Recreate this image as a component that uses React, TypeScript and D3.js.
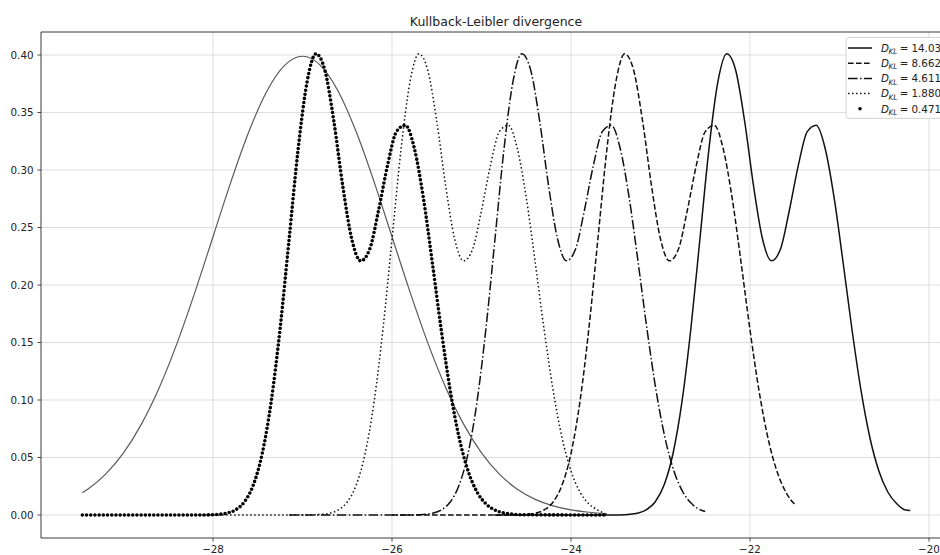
import React from "react";
import * as d3 from "d3";

const W = 940;
const H = 555;

// axis ticks
const xTicks = [-28, -26, -24, -22, -20];
const xTickLabels = ["\u221228", "\u221226", "\u221224", "\u221222", "\u221220"];
const yTicks = [0, 0.05, 0.1, 0.15, 0.2, 0.25, 0.3, 0.35, 0.4];
const yTickLabels = ["0.00", "0.05", "0.10", "0.15", "0.20", "0.25", "0.30", "0.35", "0.40"];

// reference (wide) curve q
const qX = [-29.46, -29.4, -29.2, -29.0, -28.8, -28.6, -28.4, -28.2, -28.0, -27.8, -27.6, -27.4, -27.2, -27.0, -26.8, -26.6, -26.4, -26.2, -26.0, -25.8, -25.6, -25.4, -25.2, -25.0, -24.8, -24.6, -24.4, -24.2, -24.0, -23.8, -23.6];
const qY = [0.0194, 0.0224, 0.0355, 0.054, 0.079, 0.1109, 0.1497, 0.1942, 0.242, 0.2897, 0.3332, 0.3683, 0.391, 0.3989, 0.391, 0.3683, 0.3332, 0.2897, 0.242, 0.1942, 0.1497, 0.1109, 0.079, 0.054, 0.0355, 0.0224, 0.0136, 0.0079, 0.0044, 0.0024, 0.0012];

// bimodal profile p (offset from its first peak)
const profileOffsets = [-1.3, -1.2, -1.1, -1.0, -0.9, -0.8, -0.7, -0.6, -0.5, -0.4, -0.3, -0.2, -0.1, 0, 0.1, 0.2, 0.3, 0.4, 0.5, 0.6, 0.7, 0.8, 0.9, 1.0, 1.1, 1.2, 1.3, 1.4, 1.5, 1.6, 1.7, 1.8, 1.9, 2.0, 2.1, 2.2, 2.3];
const profileValues = [0.0, 0.0001, 0.0005, 0.0015, 0.0044, 0.0113, 0.026, 0.0535, 0.0985, 0.1624, 0.2396, 0.3173, 0.3761, 0.401, 0.3867, 0.3425, 0.286, 0.24, 0.221, 0.231, 0.265, 0.304, 0.3334, 0.3389, 0.3187, 0.2759, 0.2198, 0.1611, 0.1085, 0.0672, 0.0383, 0.02, 0.0097, 0.0043, 0.0017, 0.0007, 0.0002];

// shifted copies of p
const seriesLabels = ["14.03", "8.662", "4.611", "1.880", "0.471"];
const seriesPeaks = [-22.26, -23.4, -24.55, -25.7, -26.85];
const seriesStartX = [-24.86, -26.0, -27.15, -28.3, -29.46];
const seriesEndX = [-20.21, -21.48, -22.5, -23.63, -23.6];
const seriesEndY = [0.004, 0.009, 0.003, 0.0015, 0.0];
const seriesStyles = ["solid", "dashed", "dashdot", "dotted", "points"];

const FONT = "'DejaVu Sans', sans-serif";

const dashFor: Record<string, string | undefined> = {
  solid: undefined,
  dashed: "5.6 2.4",
  dashdot: "9.6 2.4 1.5 2.4",
  dotted: "1.5 2.5",
  points: "0 4.2",
};

export default function App() {
  const x = d3.scaleLinear().domain([-29.922, -19.754]).range([41, 951]);
  const y = d3.scaleLinear().domain([-0.02, 0.42]).range([538, 32]);
  const line = d3
    .line<[number, number]>()
    .x((d) => x(d[0]))
    .y((d) => y(d[1]))
    .curve(d3.curveMonotoneX);

  const qPts: [number, number][] = qX.map((v, i) => [v, qY[i]]);

  const seriesPts = seriesLabels.map((_, i) => {
    const pk = seriesPeaks[i];
    const pts: [number, number][] = [[seriesStartX[i], 0]];
    profileOffsets.forEach((o, j) => {
      const xv = pk + o;
      if (xv > seriesStartX[i] && xv < seriesEndX[i] - 0.015) pts.push([xv, profileValues[j]]);
    });
    pts.push([seriesEndX[i], seriesEndY[i]]);
    return pts;
  });

  const left = 41, right = 951, top = 32, bottom = 538;
  const legX = 846, legY = 37.5, rowY0 = 48, rowStep = 15.2;

  return (
    <svg
      width={W}
      height={H}
      viewBox={`0 0 ${W} ${H}`}
      style={{ position: "absolute", left: 0, top: 0, background: "#fff" }}
      fontFamily={FONT}
    >
      <defs>
        <clipPath id="plot">
          <rect x={left} y={top} width={right - left} height={bottom - top} />
        </clipPath>
      </defs>
      <rect x={0} y={0} width={W} height={H} fill="#fff" />

      {/* grid */}
      <g stroke="#d9d9d9" strokeWidth={0.9}>
        {xTicks.map((t) => (
          <line key={"gx" + t} x1={x(t)} x2={x(t)} y1={top} y2={bottom} />
        ))}
        {yTicks.map((t) => (
          <line key={"gy" + t} x1={left} x2={right} y1={y(t)} y2={y(t)} />
        ))}
      </g>

      {/* curves */}
      <g clipPath="url(#plot)" fill="none">
        <path d={line(qPts) || ""} stroke="#5a5a5a" strokeWidth={1.2} />
        {seriesPts.map((pts, i) => {
          const st = seriesStyles[i];
          if (st === "points") {
            return (
              <path
                key={i}
                d={line(pts) || ""}
                stroke="#000"
                strokeWidth={3.6}
                strokeLinecap="round"
                strokeDasharray={dashFor[st]}
              />
            );
          }
          return (
            <path
              key={i}
              d={line(pts) || ""}
              stroke="#111"
              strokeWidth={1.5}
              strokeDasharray={dashFor[st]}
            />
          );
        })}
      </g>

      {/* spines */}
      <g stroke="#3a3a3a" strokeWidth={1} fill="none">
        <line x1={left} x2={left} y1={top} y2={bottom} />
        <line x1={left} x2={right} y1={bottom} y2={bottom} />
        <line x1={left} x2={right} y1={top} y2={top} />
        <line x1={right} x2={right} y1={top} y2={bottom} />
      </g>

      {/* ticks */}
      <g stroke="#3a3a3a" strokeWidth={0.9}>
        {xTicks.map((t) => (
          <line key={"tx" + t} x1={x(t)} x2={x(t)} y1={bottom} y2={bottom + 3.6} />
        ))}
        {yTicks.map((t) => (
          <line key={"ty" + t} x1={left - 3.6} x2={left} y1={y(t)} y2={y(t)} />
        ))}
      </g>
      <g fontSize={10.3} fill="#222">
        {xTicks.map((t, i) => (
          <text key={"lx" + t} x={x(t)} y={552.5} textAnchor="middle">
            {xTickLabels[i]}
          </text>
        ))}
        {yTicks.map((t, i) => (
          <text key={"ly" + t} x={33.5} y={y(t)} dy="0.36em" textAnchor="end">
            {yTickLabels[i]}
          </text>
        ))}
      </g>

      {/* title */}
      <text x={(left + right) / 2} y={25.5} textAnchor="middle" fontSize={12.5} fill="#222">
        Kullback-Leibler divergence
      </text>

      {/* legend */}
      <g>
        <rect
          x={legX}
          y={legY}
          width={112}
          height={rowY0 + rowStep * 4 + 9.5 - legY}
          rx={3}
          fill="#fff"
          fillOpacity={0.85}
          stroke="#cccccc"
          strokeWidth={0.9}
        />
        {seriesLabels.map((lab, i) => {
          const ry = rowY0 + rowStep * i;
          const st = seriesStyles[i];
          return (
            <g key={"lg" + i}>
              {st === "points" ? (
                <circle cx={860} cy={ry} r={1.8} fill="#000" />
              ) : (
                <line
                  x1={848}
                  x2={872}
                  y1={ry}
                  y2={ry}
                  stroke="#111"
                  strokeWidth={1.5}
                  strokeDasharray={dashFor[st]}
                />
              )}
              <text y={ry} dy="0.36em" fontSize={10.3} fill="#222">
                <tspan x={881} fontStyle="italic">D</tspan>
                <tspan x={888.5} dy="2.4" fontStyle="italic" fontSize={7.4}>KL</tspan>
                <tspan x={899.8} dy="-2.4">=</tspan>
                <tspan x={911.5}>{lab}</tspan>
              </text>
            </g>
          );
        })}
      </g>
    </svg>
  );
}
